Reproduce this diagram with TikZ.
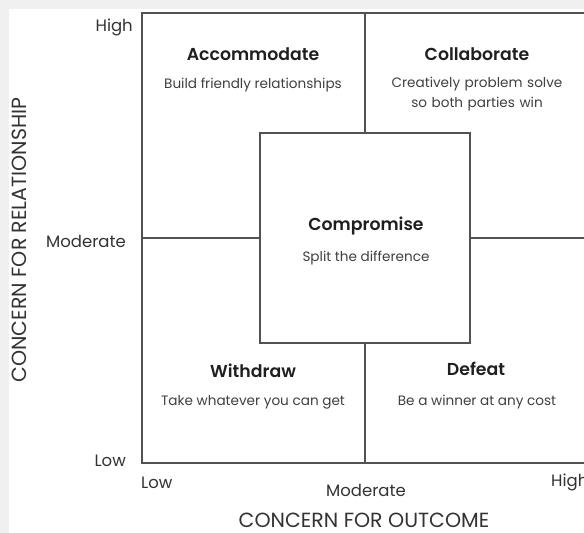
\documentclass[tikz,border=0pt]{standalone}
\usepackage{fontspec}
\setmainfont{Poppins}
\newfontfamily\quadfont{Poppins SemiBold}
\begin{document}
\begin{tikzpicture}[x=1pt,y=-1pt,
  grid/.style={draw=black!68, line width=1.3pt},
  title/.style={font=\fontsize{17.3}{19}\quadfont, text=black!88, inner sep=0pt},
  sub/.style={font=\fontsize{13.6}{19.5}\selectfont, text=black!75, align=center, inner sep=0pt},
  axis/.style={font=\fontsize{16.5}{18}\selectfont, text=black!80, inner sep=0pt},
  axtitle/.style={font=\fontsize{20.5}{22}\selectfont, text=black!80, inner sep=0pt}]
  \useasboundingbox (0,0) rectangle (584,533);
  \clip (0,0) rectangle (584,533);
  % page background
  \fill[black!6] (0,0) rectangle (584,533);
  \fill[white] (9,9) rectangle (584,533);

  % outer frame and dividing lines
  \coordinate (tl) at (142,13);
  \coordinate (br) at (592,463);
  \coordinate (mid) at (365,238);
  \draw[grid] (tl) rectangle (br);
  \node[grid, fill=white, minimum width=210pt, minimum height=210pt, inner sep=0pt] (cmp) at (mid) {};
  \draw[grid] (cmp.north) -- (cmp.north |- tl);
  \draw[grid] (cmp.south) -- (cmp.south |- br);
  \draw[grid] (cmp.west) -- (cmp.west -| tl);
  \draw[grid] (cmp.east) -- (cmp.east -| br);

  % quadrant labels
  \node[title] (acc) at (253,54) {Accommodate};
  \node[sub]   (accs) at (253,85) {Build friendly relationships};
  \node[title] (col) at (477,54) {Collaborate};
  \node[sub, text width=200pt] (cols) at (477,94) {Creatively problem solve\\so both parties win};
  \node[title] (com) at (366,226) {Compromise};
  \node[sub]   (coms) at (366,258) {Split the difference};
  \node[title] (wd) at (253,371) {Withdraw};
  \node[sub]   (wds) at (253,402) {Take whatever you can get};
  \node[title] (def) at (476,369) {Defeat};
  \node[sub]   (defs) at (477,402) {Be a winner at any cost};

  % vertical axis
  \node[axis, anchor=east] (yhigh) at (133,27) {High};
  \node[axis, anchor=east] (ymod) at (126,241) {Moderate};
  \node[axis, anchor=east] (ylow) at (126,461) {Low};
  \node[axtitle, rotate=90] (ytitle) at (19,240) {CONCERN FOR RELATIONSHIP};

  % horizontal axis
  \node[axis, anchor=west] (xlow) at (141,483) {Low};
  \node[axis] (xmod) at (366,490) {Moderate};
  \node[axis, anchor=west] (xhigh) at (551,482) {High};
  \node[axtitle] (xtitle) at (364,520) {CONCERN FOR OUTCOME};
\end{tikzpicture}
\end{document}
